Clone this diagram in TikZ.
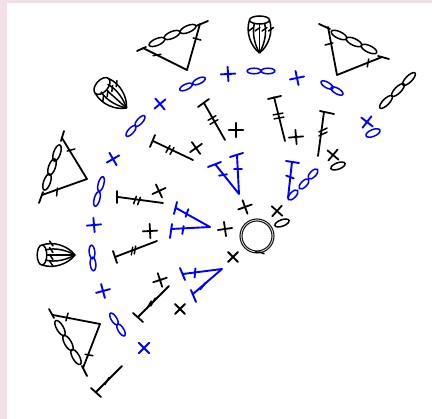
\documentclass[tikz,border=0pt]{standalone}
\definecolor{pinkbg}{HTML}{F3DFE8}
\tikzset{
  st/.style={line width=1.8pt,line cap=round,line join=round,black},
  bl/.style={line width=1.9pt,line cap=round,line join=round,blue},
  thinst/.style={line width=1.5pt,line cap=round,black},
  bloop/.style={line width=1.5pt,blue},
  kloop/.style={line width=1.5pt,black},
}
% cross: style, x, y, canvas angle
\newcommand\xst[4]{\draw[#1,rotate around={#4:(#2,#3)}] (#2-7.2,#3)--(#2+7.2,#3) (#2,#3-7.2)--(#2,#3+7.2);}
% tick: style, x, y, canvas angle, half length
\newcommand\tk[5]{\draw[#1,rotate around={#4:(#2,#3)}] (#2-#5,#3)--(#2+#5,#3);}
% loop: style, x, y, canvas angle, half length, half width
\newcommand\lp[6]{\draw[#1] (#2,#3) ellipse [x radius=#5,y radius=#6,rotate=#4];}
% puff: x, y, canvas rotation, ring half width
\newcommand\puff[4]{\begin{scope}[shift={(#1,#2)},rotate=#3]
  \draw[kloop] (0,0) ellipse [x radius=#4,y radius=10];
  \draw[kloop] (0,-10) .. controls (12,-14) and (26,-9) .. (33,0);
  \draw[kloop] (0,10) .. controls (12,14) and (26,9) .. (33,0);
  \draw[kloop] (3,-5) .. controls (14,-8) and (26,-4) .. (33,0);
  \draw[kloop] (3,5) .. controls (14,8) and (26,4) .. (33,0);
  \draw[kloop] (#4,0) -- (33,0);
  \foreach \q in {-12.5,-6,1,7.5}{\draw[thinst] (7.5,\q-1.5)--(11,\q+3.5);}
  \end{scope}}
\begin{document}
\begin{tikzpicture}[x=1pt,y=-1pt]
\useasboundingbox (0,0) rectangle (432,419);
\fill[white] (0,0) rectangle (432,419);
\fill[pinkbg] (0,0) rectangle (432,3);
\fill[pinkbg] (0,0) rectangle (7,419);
% central ring
\draw[line width=1.1pt,black!90] (257,236) circle [radius=17];
\draw[line width=1.1pt,black!90] (257,236) circle [radius=15];
\draw[line width=1.6pt,black] (255,252) arc [start angle=-97,end angle=-62,radius=16];
% blue crosses
\xst{bl}{160}{104}{40}
\xst{bl}{113}{159}{30}
\xst{bl}{228}{74}{3}
\xst{bl}{297}{78}{12}
\xst{bl}{367}{122}{-38}
\xst{bl}{94}{225}{5}
\xst{bl}{103}{291}{15}
\xst{bl}{144}{348}{45}
% black crosses
\xst{st}{196}{148}{35}
\xst{st}{159}{191}{25}
\xst{st}{236}{130}{0}
\xst{st}{296}{137}{5}
\xst{st}{333}{155}{-40}
\xst{st}{150}{231}{3}
\xst{st}{160}{280}{18}
\xst{st}{180}{309}{45}
\xst{st}{245}{207}{20}
\xst{st}{225}{229}{8}
\xst{st}{233}{257}{45}
\xst{st}{277}{211}{-42}
% blue chains
\lp{bloop}{186}{87}{25}{6.8}{2.8}
\lp{bloop}{199}{81}{25}{6.8}{2.8}
\lp{bloop}{131}{131}{48}{6.8}{2.8}
\lp{bloop}{140}{121}{48}{6.8}{2.8}
\lp{bloop}{97}{199}{75}{7.5}{2.8}
\lp{bloop}{101}{184}{75}{7.5}{2.8}
\lp{bloop}{254}{71}{0}{6.8}{2.8}
\lp{bloop}{268}{71}{0}{6.8}{2.8}
\lp{bloop}{327}{85}{-30}{6.8}{2.8}
\lp{bloop}{337}{91}{-30}{6.8}{2.8}
\lp{bloop}{92}{252}{-85}{6.8}{2.8}
\lp{bloop}{93}{264}{-85}{6.8}{2.8}
\lp{bloop}{114}{319}{-58}{6.8}{2.8}
\lp{bloop}{121}{330}{-58}{6.8}{2.8}
\lp{bloop}{373}{133}{22}{7.5}{3.4}
\lp{kloop}{338}{166}{20}{7.5}{3.2}
\lp{kloop}{282}{223}{20}{7.5}{3.2}
\lp{kloop}{386}{102}{45}{8.5}{3.2}
\lp{kloop}{398}{90}{45}{8.5}{3.2}
\lp{kloop}{409}{79}{45}{8.5}{3.2}
% triangles
\draw[st] (143,48)--(187,70)--(200,24);
\draw[st] (137,51)--(146,47) (196,26)--(208,21);
\lp{kloop}{157}{42}{23}{8.5}{3.4}\lp{kloop}{172}{35}{23}{8.5}{3.4}\lp{kloop}{188}{29}{23}{8.5}{3.4}
\tk{thinst}{157}{55}{10}{4}\tk{thinst}{197}{39}{-15}{4}
\draw[st] (42,195)--(87,179)--(62,138);
\draw[st] (39,203)--(43,192) (61,141)--(64,131);
\lp{kloop}{47}{182}{71}{8.5}{3.4}\lp{kloop}{52}{167}{71}{8.5}{3.4}\lp{kloop}{57}{153}{71}{8.5}{3.4}
\tk{thinst}{57}{192}{85}{4}\tk{thinst}{71}{150}{15}{4}
\draw[st] (328,27)--(337,75)--(382,57);
\draw[st] (319,24)--(330,29) (378,56)--(389,59);
\lp{kloop}{339}{35}{-25}{8.5}{3.4}\lp{kloop}{354}{42}{-25}{8.5}{3.4}\lp{kloop}{369}{49}{-25}{8.5}{3.4}
\tk{thinst}{329}{44}{15}{4}\tk{thinst}{368}{63}{80}{4}
\draw[st] (53,315)--(100,324)--(83,368);
\draw[st] (49,309)--(54,318) (82,366)--(87,376);
\lp{kloop}{60}{328}{-60}{8.5}{3.4}\lp{kloop}{68}{343}{-60}{8.5}{3.4}\lp{kloop}{76}{357}{-60}{8.5}{3.4}
\tk{thinst}{67}{317}{75}{4}\tk{thinst}{89}{355}{-10}{4}
% puffs
\puff{102}{86}{-42}{6}
\puff{259.5}{20}{-90}{4}
\puff{42}{255}{0}{4.8}
% black stitches
\draw[st] (193,160)--(153,141) (150,147)--(155,135);
\tk{thinst}{168}{149}{60}{4}\tk{thinst}{172}{151}{60}{4}
\draw[st] (163,203)--(118,197) (117,191)--(117,203);
\tk{thinst}{135}{200}{70}{4}\tk{thinst}{139}{201}{70}{4}
\draw[st] (225,140)--(204,103) (198,107)--(209,99);
\tk{thinst}{212}{118}{30}{4.5}\tk{thinst}{214}{122}{30}{4.5}
\draw[st] (285,141)--(274,97) (268,99)--(281,96);
\tk{thinst}{278}{114}{10}{5}\tk{thinst}{279}{118}{10}{5}
\draw[st] (318,156)--(324,112) (320,111)--(334,114);
\tk{thinst}{323}{130}{25}{4.5}\tk{thinst}{323}{134}{25}{4.5}
\draw[st] (157,241)--(115,257) (113,251)--(117,263);
\tk{thinst}{132}{251}{80}{4}\tk{thinst}{135}{250}{80}{4}
\draw[st] (169,286)--(138,317) (133,313)--(143,322);
\tk{thinst}{149}{305}{60}{4.5}\tk{thinst}{153}{302}{60}{4.5}
\draw[st] (122,366)--(96,392) (91,388)--(101,397);
\tk{thinst}{107}{381}{60}{4}
% blue stitches
\draw[bl] (215,164)--(239,194)--(237,155) (208,167)--(221,162) (230,157)--(243,153);
\tk{bl}{223}{175}{10}{4}\tk{bl}{238}{169}{0}{4}
\draw[bl] (176,208)--(210,227)--(171,229) (177,202)--(174,214) (172,224)--(170,238);
\tk{bl}{187}{213}{70}{4}\tk{bl}{183}{230}{80}{4}
\draw[bl] (183,274)--(222,269)--(193,294) (180,268)--(185,280) (191,290)--(196,302);
\tk{bl}{195}{273}{85}{4.5}\tk{bl}{203}{286}{50}{4.5}
\draw[bl] (292,162)--(288,198) (286,161)--(299,163);
\tk{bl}{290}{177}{-20}{4}
\lp{bloop}{293}{195}{46}{6.5}{3}\lp{bloop}{304}{184}{46}{6.5}{3}\lp{bloop}{313}{174}{46}{6.5}{3}
\end{tikzpicture}
\end{document}
